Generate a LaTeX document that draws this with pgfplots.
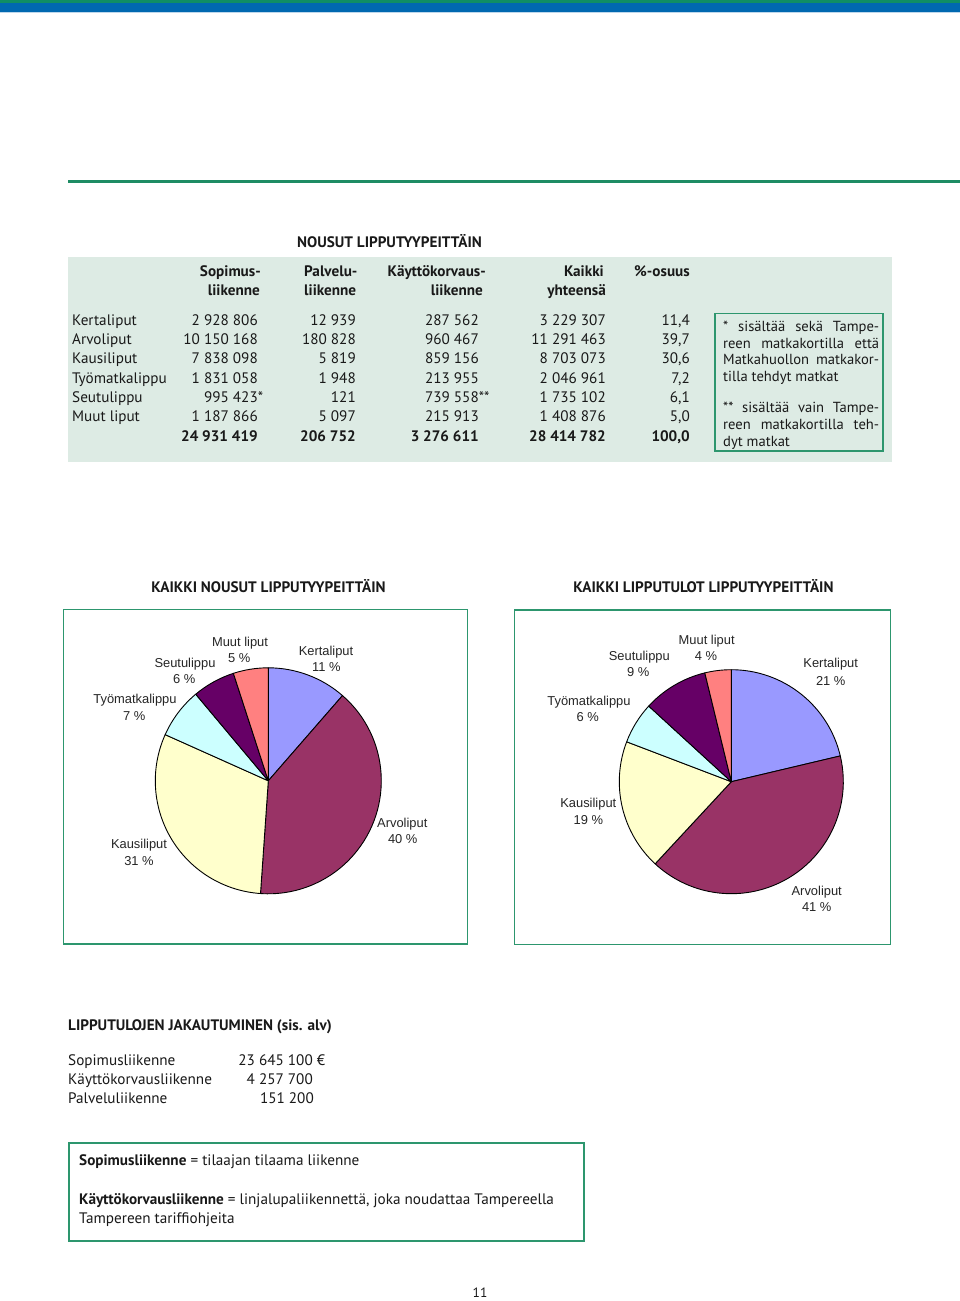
\documentclass[border=0pt]{standalone}
\usepackage{pgfplots}
\pgfplotsset{compat=1.18}
\usepackage{pgfplotstable}
\usepackage{fontspec}
\setmainfont{PT Sans}
\newfontfamily\arial{Liberation Sans}

\definecolor{topgreen}{RGB}{16,142,100}
\definecolor{topblue}{RGB}{0,104,176}
\definecolor{topdark}{RGB}{10,80,140}
\definecolor{toplight}{RGB}{190,215,235}
\definecolor{linegreen}{RGB}{30,140,100}
\definecolor{tablebg}{RGB}{221,235,228}
\definecolor{boxgreen}{RGB}{45,150,110}
\definecolor{cK}{RGB}{153,153,255}
\definecolor{cA}{RGB}{153,51,102}
\definecolor{cKa}{RGB}{255,255,204}
\definecolor{cT}{RGB}{204,255,255}
\definecolor{cS}{RGB}{102,0,102}
\definecolor{cM}{RGB}{255,128,128}

% shares (%) of the pies, clockwise from 12 o'clock
\pgfplotstableread{
label pct col
Kertaliput 11.4 cK
Arvoliput 39.7 cA
Kausiliput 30.6 cKa
Tyomatkalippu 7.2 cT
Seutulippu 6.1 cS
Muutliput 5.0 cM
}\noususdata

\pgfplotstableread{
label pct col
Kertaliput 21.3 cK
Arvoliput 40.6 cA
Kausiliput 18.9 cKa
Tyomatkalippu 6.0 cT
Seutulippu 9.4 cS
Muutliput 3.8 cM
}\tulotdata

\newcommand\drawpie[2]{%
  \def\curang{90}%
  \pgfplotsforeachungrouped \i in {0,...,5}{%
    \pgfplotstablegetelem{\i}{pct}\of{#1}\let\pct\pgfplotsretval
    \pgfplotstablegetelem{\i}{col}\of{#1}\let\col\pgfplotsretval
    \pgfmathsetmacro\nextang{\curang-3.6*\pct}%
    \edef\temp{\noexpand\filldraw[fill=\col,draw=black,line width=0.9pt,line join=round] (axis cs:0,0) -- ++(\curang:#2) arc[start angle=\curang,end angle=\nextang,radius=#2] -- cycle;}%
    \temp
    \let\curang\nextang
  }%
}

\tikzset{
  t/.style={font=\fontsize{15.2}{17}\selectfont, inner sep=0pt, text=black!90, yshift=-1.8pt},
  tb/.style={font=\fontsize{15.2}{17}\selectfont\bfseries, inner sep=0pt, text=black!90, yshift=-1.8pt},
  n/.style={font=\fontsize{14.6}{16}\selectfont, inner sep=0pt, text=black!90, yshift=-1.8pt},
  pl/.style={font=\arial\fontsize{12.9}{14}\selectfont, inner sep=0pt, text=black!85, anchor=mid, yshift=-2pt},
}

\newcommand\trow[7]{%
  \node[t,anchor=mid west] at (72,#1) {#2};
  \node[t,anchor=mid east] at (258,#1) {#3};
  \node[t,anchor=mid east] at (356,#1) {#4};
  \node[t,anchor=mid east] at (479,#1) {#5};
  \node[t,anchor=mid east] at (606,#1) {#6};
  \node[t,anchor=mid east] at (690,#1) {#7};
}

\begin{document}
\begin{tikzpicture}[x=1pt,y=-1pt]
\useasboundingbox (0,0) rectangle (960,1301);
\fill[white] (0,0) rectangle (960,1301);
% top stripe
\fill[topgreen] (0,0) rectangle (960,3);
\fill[topblue] (0,3) rectangle (960,11.5);
\fill[topdark] (0,11.5) rectangle (960,12.3);
\fill[toplight] (0,12.3) rectangle (960,13.3);
% green rule
\fill[linegreen] (68,180.3) rectangle (960,183);

% table
\node[tb,anchor=mid] at (389.5,243) {NOUSUT LIPPUTYYPEITTÄIN};
\fill[tablebg] (68,257) rectangle (892,462);
\node[tb,anchor=mid east] at (261,272.5) {Sopimus-};
\node[tb,anchor=mid east] at (260,291.5) {liikenne};
\node[tb,anchor=mid west] at (304,272.5) {Palvelu-};
\node[tb,anchor=mid west] at (304,291.5) {liikenne};
\node[tb,anchor=mid east] at (486,272.5) {Käyttökorvaus-};
\node[tb,anchor=mid east] at (483,291.5) {liikenne};
\node[tb,anchor=mid east] at (604,272.5) {Kaikki};
\node[tb,anchor=mid east] at (606,291.5) {yhteensä};
\node[tb,anchor=mid west] at (634,272.5) {\%-osuus};

\trow{320.7}{Kertaliput}{2 928 806}{12 939}{287 562}{3 229 307}{11,4}
\trow{340}{Arvoliput}{10 150 168}{180 828}{960 467}{11 291 463}{39,7}
\trow{359.3}{Kausiliput}{7 838 098}{5 819}{859 156}{8 703 073}{30,6}
\trow{379}{Työmatkalippu}{1 831 058}{1 948}{213 955}{2 046 961}{7,2}
\trow{398.3}{Seutulippu}{995 423\rlap{*}}{121}{739 558\rlap{**}}{1 735 102}{6,1}
\trow{417.3}{Muut liput}{1 187 866}{5 097}{215 913}{1 408 876}{5,0}
\trow{436.7}{}{\bfseries 24 931 419}{\bfseries 206 752}{\bfseries 3 276 611}{\bfseries 28 414 782}{\bfseries 100,0}

% note box
\draw[boxgreen,line width=1.5pt] (715,313.5) rectangle (883,451);
\begin{scope}[every node/.style={n,anchor=mid west}]
\node at (723,326.7) {\makebox[156pt][s]{* sisältää sekä Tampe-}};
\node at (723,343.7) {\makebox[156pt][s]{reen matkakortilla että}};
\node at (723,360.3) {\makebox[156pt][s]{Matkahuollon matkakor-}};
\node at (723,376.7) {tilla tehdyt matkat};
\node at (723,408.3) {\makebox[156pt][s]{** sisältää vain Tampe-}};
\node at (723,425) {\makebox[156pt][s]{reen matkakortilla teh-}};
\node at (723,441.7) {dyt matkat};
\end{scope}

% pie titles and frames
\node[tb,anchor=mid] at (268.5,588.5) {KAIKKI NOUSUT LIPPUTYYPEITTÄIN};
\node[tb,anchor=mid] at (703.5,588.5) {KAIKKI LIPPUTULOT LIPPUTYYPEITTÄIN};
\draw[boxgreen,line width=1.5pt] (63.5,609.5) rectangle (467.5,944);
\draw[boxgreen,line width=1.5pt] (514.5,610) rectangle (890.5,944.5);

\coordinate (pL) at (268.3,780.8);
\coordinate (pR) at (731.3,781.7);
\begin{axis}[at={(pL)}, anchor=origin, x=1pt, y=1pt,
  xmin=-120, xmax=120, ymin=-120, ymax=120, hide axis, clip=false]
  \drawpie{\noususdata}{113pt}
\end{axis}
\begin{axis}[at={(pR)}, anchor=origin, x=1pt, y=1pt,
  xmin=-120, xmax=120, ymin=-120, ymax=120, hide axis, clip=false]
  \drawpie{\tulotdata}{112pt}
\end{axis}

% left pie labels
\node[pl] at (240,642.3) {Muut liput};
\node[pl] at (239.3,658.3) {5 \%};
\node[pl] at (326,650.7) {Kertaliput};
\node[pl] at (326.3,667.3) {11 \%};
\node[pl] at (185,663.3) {Seutulippu};
\node[pl] at (184.3,679.3) {6 \%};
\node[pl] at (135,699) {Työmatkalippu};
\node[pl] at (134.3,715.7) {7 \%};
\node[pl] at (139,844.3) {Kausiliput};
\node[pl] at (139,860.7) {31 \%};
\node[pl] at (402.3,823.3) {Arvoliput};
\node[pl] at (402.7,839.3) {40 \%};
% right pie labels
\node[pl] at (706.7,640) {Muut liput};
\node[pl] at (706,656) {4 \%};
\node[pl] at (639.3,655.7) {Seutulippu};
\node[pl] at (638.3,671.7) {9 \%};
\node[pl] at (830.7,663.3) {Kertaliput};
\node[pl] at (830.7,680.7) {21 \%};
\node[pl] at (589,700.7) {Työmatkalippu};
\node[pl] at (587.7,716.7) {6 \%};
\node[pl] at (588.3,803.3) {Kausiliput};
\node[pl] at (588.3,820) {19 \%};
\node[pl] at (816.7,891) {Arvoliput};
\node[pl] at (816.7,906.7) {41 \%};

% revenue section
\node[tb,anchor=mid west] at (68,1026) {LIPPUTULOJEN JAKAUTUMINEN (sis. alv)};
\node[t,anchor=mid west] at (68,1061) {Sopimusliikenne};
\node[t,anchor=mid east] at (313,1061) {23 645 100\rlap{ €}};
\node[t,anchor=mid west] at (68,1080) {Käyttökorvausliikenne};
\node[t,anchor=mid east] at (313,1080) {4 257 700};
\node[t,anchor=mid west] at (68,1099.5) {Palveluliikenne};
\node[t,anchor=mid east] at (314,1099.5) {151 200};

\draw[boxgreen,line width=1.5pt] (69,1143) rectangle (584,1241);
\node[t,anchor=mid west] at (79,1161) {\textbf{Sopimusliikenne} = tilaajan tilaama liikenne};
\node[t,anchor=mid west] at (79,1200) {\textbf{Käyttökorvausliikenne} = linjalupaliikennettä, joka noudattaa Tampereella};
\node[t,anchor=mid west] at (79,1219) {Tampereen tariffiohjeita};

\node[t,font=\fontsize{13.5}{15}\selectfont,anchor=mid] at (480,1293.5) {11};
\end{tikzpicture}
\end{document}
